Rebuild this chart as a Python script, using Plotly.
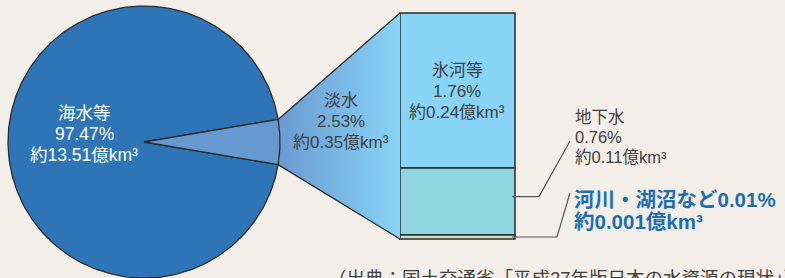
import numpy as np
import plotly.graph_objects as go

# ---------------- data ----------------
pie_labels = ["海水等", "淡水"]
pie_shares = [97.47, 2.53]            # %
pie_volumes = ["約13.51億km³", "約0.35億km³"]

fresh_labels = ["氷河等", "地下水", "河川・湖沼など"]
fresh_shares = [1.76, 0.76, 0.01]     # %
fresh_volumes = ["約0.24億km³", "約0.11億km³", "約0.001億km³"]

source_text = "（出典：国土交通省「平成27年版日本の水資源の現状」）"

# ---------------- style / layout constants ----------------
W, H = 785, 278
BG = "#F3EFE8"
EDGE = "#2b2b2b"
SEA_C = "#2E75B8"
FRESH_C = "#6699CF"
BAR_COLORS = ["#88D4F6", "#8FD6E1", "#C9E2C3"]
TEXT_C = "#404040"
BLUE_TXT = "#1C6EB4"
FONT = "Liberation Sans, Noto Sans CJK JP, sans-serif"

CX, CY, R = 144, 142, 136          # circle (pixel units)
WEDGE_EXAG = 2.1                    # visual widening of the small wedge
BAR_X0, BAR_X1 = 400, 515
BAR_TOP, BAR_BOT = 13, 239
MIN_SHARE = 0.045                   # minimum visible share for tiny segment

fig = go.Figure()

# wedge geometry from data
half = np.deg2rad(pie_shares[1] / 100 * 360 * WEDGE_EXAG / 2)
p_up = (CX + R * np.cos(half), CY - R * np.sin(half))
p_dn = (CX + R * np.cos(half), CY + R * np.sin(half))

# connector trapezoid (gradient)
fig.add_trace(go.Scatter(
    x=[p_up[0], BAR_X0, BAR_X0, p_dn[0], p_up[0]],
    y=[p_up[1], BAR_TOP, BAR_BOT, p_dn[1], p_up[1]],
    mode="none", fill="toself",
    fillgradient=dict(type="horizontal",
                      colorscale=[[0, "#6A9AD2"], [1, "#88D4F6"]]),
    hoverinfo="skip"))
for (px, py), by in ((p_up, BAR_TOP), (p_dn, BAR_BOT)):
    fig.add_trace(go.Scatter(x=[px, BAR_X0], y=[py, by], mode="lines",
                             line=dict(color=EDGE, width=1.3), hoverinfo="skip"))

# sea-water big slice
t = np.linspace(half, 2 * np.pi - half, 400)
fig.add_trace(go.Scatter(
    x=np.concatenate([[CX], CX + R * np.cos(t), [CX]]),
    y=np.concatenate([[CY], CY - R * np.sin(t), [CY]]),
    mode="lines", fill="toself", fillcolor=SEA_C,
    line=dict(color=EDGE, width=1.3), hoverinfo="skip"))
# fresh-water wedge
t2 = np.linspace(-half, half, 40)
fig.add_trace(go.Scatter(
    x=np.concatenate([[CX], CX + R * np.cos(t2), [CX]]),
    y=np.concatenate([[CY], CY - R * np.sin(t2), [CY]]),
    mode="lines", fill="toself", fillcolor=FRESH_C,
    line=dict(color=EDGE, width=1.3), hoverinfo="skip"))

# stacked bar of fresh water
disp = [max(v, MIN_SHARE) for v in fresh_shares]
scale = (BAR_BOT - BAR_TOP) / sum(disp)
heights = [d * scale for d in disp]
bases = list(BAR_TOP + np.concatenate([[0], np.cumsum(heights)[:-1]]))
for i in range(len(fresh_labels)):
    fig.add_trace(go.Bar(
        x=[(BAR_X0 + BAR_X1) / 2], y=[heights[i]], base=[bases[i]],
        width=BAR_X1 - BAR_X0,
        marker=dict(color=BAR_COLORS[i], line=dict(color=EDGE, width=1.5)),
        hoverinfo="skip"))

# leader lines
seg_mid = [bases[i] + heights[i] / 2 for i in range(3)]
fig.add_trace(go.Scatter(x=[BAR_X1 - 3, 539, 570], y=[seg_mid[1] - 5, seg_mid[1] - 5, 141],
                         mode="lines", line=dict(color="#555", width=1.2), hoverinfo="skip"))
fig.add_trace(go.Scatter(x=[BAR_X1 - 3, 557, 570], y=[seg_mid[2], seg_mid[2], 193],
                         mode="lines", line=dict(color="#555", width=1.2), hoverinfo="skip"))

def lbl(lines, x, y_first, color, size, gap, xanchor="center", bold=False):
    for k, s in enumerate(lines):
        fig.add_annotation(
            x=x, y=y_first + k * gap, xref="x", yref="y", showarrow=False,
            text=f"<b>{s}</b>" if bold else s, borderpad=0,
            xanchor=xanchor, yanchor="middle",
            font=dict(family=FONT, size=size, color=color))

lbl([pie_labels[0], f"{pie_shares[0]:.2f}%", pie_volumes[0]], 84, 113, "white", 17.5, 21)
lbl([pie_labels[1], f"{pie_shares[1]:.2f}%", pie_volumes[1]], 341, 100, TEXT_C, 17, 21)
lbl([fresh_labels[0], f"{fresh_shares[0]:.2f}%", fresh_volumes[0]], 457, 70, TEXT_C, 17, 21)
lbl([fresh_labels[1], f"{fresh_shares[1]:.2f}%", fresh_volumes[1]], 574, 117, TEXT_C, 16.5, 20,
    xanchor="left")
lbl([f"{fresh_labels[2]}{fresh_shares[2]:.2f}%", fresh_volumes[2]], 573, 199, BLUE_TXT, 20.5, 22,
    xanchor="left", bold=True)
fig.add_annotation(
    x=327, y=267, xref="x", yref="y", showarrow=False, text=source_text,
    xanchor="left", yanchor="top", borderpad=0,
    font=dict(family=FONT, size=18.5, color=TEXT_C))

fig.update_layout(
    width=W, height=H, margin=dict(l=0, r=0, t=0, b=0),
    paper_bgcolor=BG, plot_bgcolor=BG, showlegend=False, barmode="overlay",
    xaxis=dict(range=[0, W], visible=False, fixedrange=True),
    yaxis=dict(range=[H, 0], visible=False, fixedrange=True),
)
fig.write_html("out.html", config={"displayModeBar": False},
               post_script="document.body.style.margin='0px';"
                           "document.body.style.background='" + BG + "';")
